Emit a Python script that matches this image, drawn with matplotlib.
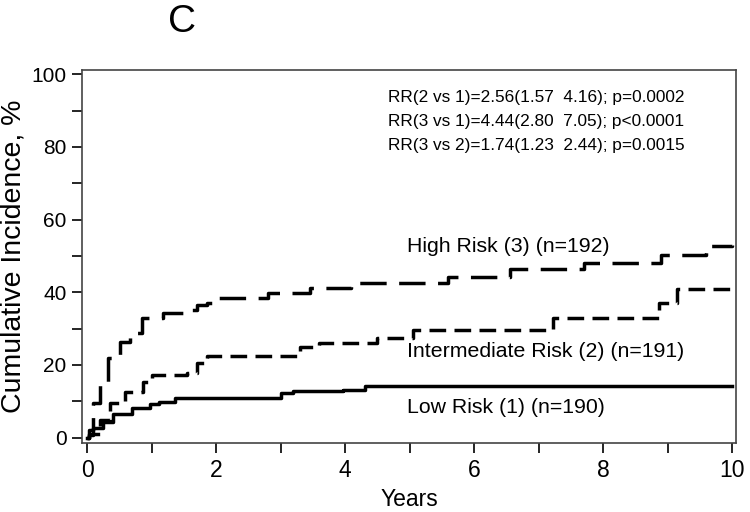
import matplotlib
matplotlib.use('Agg')
import matplotlib.pyplot as plt

plt.rcParams['font.family'] = ['Liberation Sans', 'DejaVu Sans']
plt.rcParams['lines.scale_dashes'] = False

# 累積發生率曲線 (years, %)
low_t = [0.0, 0.03, 0.1, 0.25, 0.4, 0.7, 0.98, 1.12, 1.36, 3.0, 3.2, 3.97, 4.31, 10.0]
low_y = [0.0, 0.7, 2.7, 4.3, 6.4, 8.1, 9.2, 9.8, 10.9, 12.2, 12.8, 13.1, 14.3, 14.3]

mid_t = [0.0, 0.03, 0.2, 0.36, 0.59, 0.87, 1.0, 1.55, 1.7, 1.86, 3.3, 3.6, 4.5, 5.06, 7.23, 8.87, 9.15, 10.0]
mid_y = [0.0, 1.0, 4.9, 9.5, 12.6, 15.3, 17.2, 17.8, 20.5, 22.5, 25.0, 26.0, 27.4, 29.6, 32.8, 37.0, 41.0, 41.0]

high_t = [0.0, 0.03, 0.1, 0.2, 0.33, 0.51, 0.67, 0.85, 1.18, 1.49, 1.7, 1.86, 1.94, 2.8, 3.45,
          4.1, 5.6, 6.56, 7.7, 8.9, 9.6, 10.0]
high_y = [0.0, 2.0, 9.5, 15.3, 22.0, 26.3, 28.7, 33.0, 34.3, 35.0, 36.5, 37.0, 38.4, 39.8, 41.3,
          42.5, 44.2, 46.3, 48.0, 50.2, 52.7, 53.0]

rr_lines = ['RR(2 vs 1)=2.56(1.57  4.16); p=0.0002',
            'RR(3 vs 1)=4.44(2.80  7.05); p<0.0001',
            'RR(3 vs 2)=1.74(1.23  2.44); p=0.0015']
group_labels = ['High Risk (3) (n=192)', 'Intermediate Risk (2) (n=191)', 'Low Risk (1) (n=190)']
label_y = [52.7, 23.6, 8.2]

fig = plt.figure(figsize=(7.5, 5.12), dpi=100)
ax = fig.add_axes([0.1093, 0.1354, 0.872, 0.728])

ax.step(low_t, low_y, where='post', color='black', linewidth=2.5)
ax.step(mid_t, mid_y, where='post', color='black', linewidth=2.5, dashes=(12, 6))
ax.step(high_t, high_y, where='post', color='black', linewidth=2.5, dashes=(19, 9))

ax.set_xlim(-0.078, 10.06)
ax.set_ylim(-1.4, 101.2)
ax.set_xticks(range(0, 11))
ax.set_xticklabels([str(v) if v % 2 == 0 else '' for v in range(0, 11)])
ax.set_yticks(range(0, 101, 10))
ax.set_yticklabels([str(v) if v % 20 == 0 else '' for v in range(0, 101, 10)])
ax.tick_params(direction='out', length=7, width=1.2, labelsize=15, pad=4, colors='black')
ax.tick_params(axis='x', labelsize=16.5, pad=5)
for sp in ax.spines.values():
    sp.set_linewidth(1.2)
    sp.set_color('#444444')

ax.set_xlabel('Years', fontsize=16.5, labelpad=4)
ax.set_ylabel('Cumulative Incidence, %', fontsize=20.5, labelpad=4)

for i, line in enumerate(rr_lines):
    ax.text(4.67, 93.7 - 6.6 * i, line, fontsize=12.4, va='center', ha='left')
for lbl, y in zip(group_labels, label_y):
    ax.text(4.96, y, lbl, fontsize=15.3, va='center', ha='left')

fig.text(182 / 750, 1 - 22 / 512, 'C', fontsize=28, ha='center', va='center')

fig.savefig('out.png', dpi=100)
